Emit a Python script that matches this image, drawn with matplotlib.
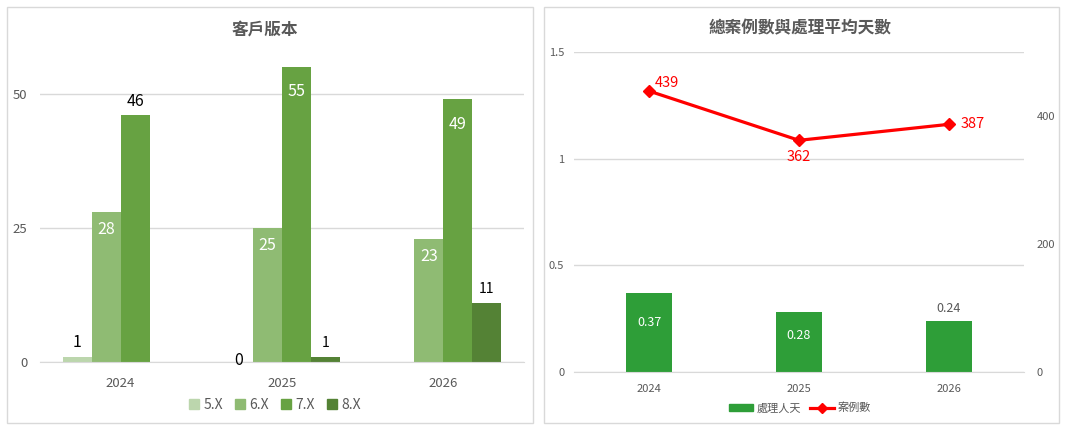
import matplotlib.pyplot as plt
import numpy as np
from matplotlib.patches import Rectangle, Patch
from matplotlib.lines import Line2D

plt.rcParams['font.family'] = ['Noto Sans CJK TC', 'DejaVu Sans']

# left chart: client versions
years = ['2024', '2025', '2026']
versions = ['5.X', '6.X', '7.X', '8.X']
v5 = [1, 0, None]
v6 = [28, 25, 23]
v7 = [46, 55, 49]
v8 = [None, 1, 11]

# right chart: cases and average handling days
days = [0.37, 0.28, 0.24]
cases = [439, 362, 387]

ver_colors = ['#bcd6ad', '#8fbb73', '#67a242', '#548235']
# label inside (white) or outside (black) per series / year
inside = [[False] * 3, [True] * 3, [False, True, True], [False] * 3]

GRAY = '#595959'
GRID = '#d9d9d9'

W, H = 1065, 430
fig = plt.figure(figsize=(W / 100, H / 100), dpi=100)

def fx(px):
    return px / W

def fy(py):
    return 1 - py / H

# panel frames
for x0, x1 in [(7, 533), (544, 1059)]:
    fig.patches.append(Rectangle((fx(x0), fy(423)), fx(x1 - x0), (423 - 7) / H,
                                 transform=fig.transFigure, fill=False,
                                 edgecolor='#d9d9d9', lw=1))

def style_axis(ax):
    for s in ['top', 'right', 'left']:
        ax.spines[s].set_visible(False)
    ax.spines['bottom'].set_color(GRID)
    ax.tick_params(length=0, colors=GRAY)
    ax.grid(axis='y', color=GRID, lw=1)
    ax.set_axisbelow(True)

# ---- left chart
ax1 = fig.add_axes([fx(40), (H - 362) / H, fx(484), 322 / H])
style_axis(ax1)
x = np.arange(len(years))
bw = 0.18
series = [v5, v6, v7, v8]
for i, vals in enumerate(series):
    off = (i - 1.5) * bw
    for j, v in enumerate(vals):
        if v is None:
            continue
        ax1.bar(x[j] + off, v, bw, color=ver_colors[i], zorder=2)
        if inside[i][j]:
            ax1.annotate(str(v), (x[j] + off, v),
                         xytext=(0, -13 if i == 1 else -18),
                         textcoords='offset points', ha='center', va='center',
                         color='white', fontsize=11.5)
        else:
            ax1.annotate(str(v), (x[j] + off, v),
                         xytext=(0, 1 if v == 0 else 10),
                         textcoords='offset points', ha='center', va='center',
                         color='black', fontsize=11.5 if i < 3 else 10)
ax1.set_xlim(-0.5, 2.5)
ax1.set_ylim(0, 60)
ax1.set_yticks([0, 25, 50])
ax1.set_xticks(x)
ax1.set_xticklabels(years)
ax1.tick_params(axis='x', pad=11, labelsize=9.5)
ax1.tick_params(axis='y', pad=9, labelsize=9.5)
fig.text(fx(265), fy(30), '客戶版本', ha='center', va='center',
         fontsize=12, color=GRAY, fontweight='bold')
h1 = [Patch(color=c) for c in ver_colors]
fig.legend(h1, versions, loc='center', bbox_to_anchor=(fx(275), fy(405)),
           ncol=4, frameon=False, handlelength=0.7, handleheight=0.7,
           handletextpad=0.3, columnspacing=0.9, fontsize=10, labelcolor=GRAY)

# ---- right chart
ax2 = fig.add_axes([fx(574), (H - 372) / H, fx(450), 320 / H])
style_axis(ax2)
bars = ax2.bar(x, days, 0.31, color='#2e9e38', zorder=2)
day_inside = [True, True, False]
for j, v in enumerate(days):
    if day_inside[j]:
        ax2.annotate(f'{v:.2f}', (x[j], v), xytext=(0, -21 if j == 0 else -17),
                     textcoords='offset points', ha='center', va='center',
                     color='white', fontsize=9)
    else:
        ax2.annotate(f'{v:.2f}', (x[j], v), xytext=(0, 9),
                     textcoords='offset points', ha='center', va='center',
                     color=GRAY, fontsize=9)
ax2.set_xlim(-0.5, 2.5)
ax2.set_ylim(0, 1.5)
ax2.set_yticks([0, 0.5, 1, 1.5])
ax2.set_yticklabels(['0', '0.5', '1', '1.5'])
ax2.set_xticks(x)
ax2.set_xticklabels(years)
ax2.tick_params(axis='x', pad=9, labelsize=8)
ax2.tick_params(axis='y', pad=7, labelsize=8)

ax3 = ax2.twinx()
for s in ax3.spines.values():
    s.set_visible(False)
ax3.plot(x, cases, color='#ff0000', lw=2.3, marker='D', ms=6, zorder=3)
ax3.set_ylim(0, 500)
ax3.set_yticks([0, 200, 400])
ax3.tick_params(length=0, colors=GRAY, labelsize=8, pad=9)
offsets = [((4, 6), 'left'), ((0, -12), 'center'), ((8, 0), 'left')]
for j, v in enumerate(cases):
    (dx, dy), ha = offsets[j]
    ax3.annotate(str(v), (x[j], v), xytext=(dx, dy), textcoords='offset points',
                 ha=ha, va='center', color='#ff0000', fontsize=10.5)
fig.text(fx(800), fy(28), '總案例數與處理平均天數', ha='center', va='center',
         fontsize=12, color=GRAY, fontweight='bold')
h2 = [Patch(color='#2e9e38'),
      Line2D([], [], color='#ff0000', lw=2.3, marker='D', ms=5)]
fig.legend(h2, ['處理人天', '案例數'], loc='center',
           bbox_to_anchor=(fx(800), fy(408)), ncol=2, frameon=False,
           handlelength=2.2, handleheight=0.5, handletextpad=0.3,
           columnspacing=0.8, fontsize=8, labelcolor=GRAY)

fig.savefig('out.png', dpi=100)
